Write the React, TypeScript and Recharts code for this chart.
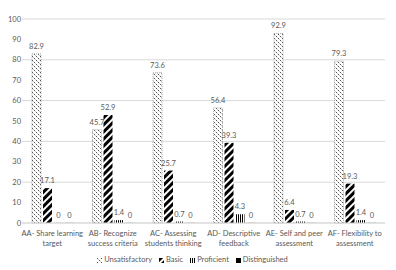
import React from 'react';
import {
  Bar,
  BarChart,
  CartesianGrid,
  LabelList,
  Legend,
  XAxis,
  YAxis,
} from 'recharts';

// each category label is drawn on two lines
const tickLines = [
  ['AA- Share learning', 'target'],
  ['AB- Recognize', 'success criteria'],
  ['AC- Assessing', 'students thinking'],
  ['AD- Descriptive', 'feedback'],
  ['AE- Self and peer', 'assessment'],
  ['AF- Flexibility to', 'assessment'],
];
const categories = tickLines.map((l) => l.join(' '));
const unsatisfactory = [82.9, 45.7, 73.6, 56.4, 92.9, 79.3];
const basic = [17.1, 52.9, 25.7, 39.3, 6.4, 19.3];
const proficient = [0, 1.4, 0.7, 4.3, 0.7, 1.4];
const distinguished = [0, 0, 0, 0, 0, 0];
const yTicks = [0, 10, 20, 30, 40, 50, 60, 70, 80, 90, 100];

const data = categories.map((name, i) => ({
  name,
  unsatisfactory: unsatisfactory[i],
  basic: basic[i],
  proficient: proficient[i],
  distinguished: distinguished[i],
}));

const FONT = 'Lato, "Liberation Sans", sans-serif';
const TEXT = '#595959';
const FS = 7.5;

const series = [
  { key: 'unsatisfactory', name: 'Unsatisfactory', fill: 'url(#dots)', stroke: '#8c8c8c', dash: '1 1' },
  { key: 'basic', name: 'Basic', fill: 'url(#hatch)', stroke: 'none', dash: undefined },
  { key: 'proficient', name: 'Proficient', fill: 'url(#vlines)', stroke: 'none', dash: undefined },
  { key: 'distinguished', name: 'Distinguished', fill: '#000', stroke: 'none', dash: undefined },
];

const CategoryTick = (props: any) => {
  const { x, y, index } = props;
  const lines = tickLines[index] || [];
  return (
    <text x={x} y={y + 11} textAnchor='middle' fontSize={FS} fontFamily={FONT} fill={TEXT}>
      {lines.map((line, i) => (
        <tspan key={i} x={x} dy={i === 0 ? 0 : 9.5}>
          {line}
        </tspan>
      ))}
    </text>
  );
};

const LegendContent = () => (
  <div
    style={{
      display: 'flex',
      justifyContent: 'center',
      gap: 7,
      fontSize: FS,
      fontFamily: FONT,
      color: TEXT,
      lineHeight: '10px',
    }}
  >
    {series.map((s) => (
      <span key={s.key} style={{ display: 'flex', alignItems: 'center' }}>
        <svg width={5} height={5} style={{ marginRight: 2 }}>
          <rect width={5} height={5} fill={s.fill} />
        </svg>
        {s.name}
      </span>
    ))}
  </div>
);

const App = () => {
  return (
    <div
      style={{
        position: 'relative',
        width: 396,
        height: 270,
        margin: '-8px 0 0 -8px',
        overflow: 'hidden',
        background: '#fff',
      }}
    >
      <div
        style={{
          position: 'absolute',
          left: -1,
          top: 6,
          width: 392,
          height: 300,
          border: '1px solid #d9d9d9',
        }}
      />
      <BarChart
        width={396}
        height={270}
        data={data}
        margin={{ top: 19, right: 11, left: 0, bottom: 0 }}
        barCategoryGap={10}
        barGap={2}
        style={{ position: 'absolute', left: 0, top: 0 }}
      >
        <defs>
          <pattern id='dots' width={4} height={4} patternUnits='userSpaceOnUse'>
            <rect width={4} height={4} fill='#fff' />
            <rect x={0} y={0} width={1} height={1} fill='#555' />
            <rect x={2} y={2} width={1} height={1} fill='#555' />
            <rect x={1} y={1} width={1} height={1} fill='#ccc' />
            <rect x={3} y={3} width={1} height={1} fill='#ccc' />
          </pattern>
          <pattern
            id='hatch'
            width={5}
            height={5}
            patternUnits='userSpaceOnUse'
            patternTransform='rotate(45)'
          >
            <rect width={5} height={5} fill='#fff' />
            <rect width={3} height={5} fill='#000' />
          </pattern>
          <pattern id='vlines' width={2} height={2} patternUnits='userSpaceOnUse'>
            <rect width={2} height={2} fill='#fff' />
            <rect width={1} height={2} fill='#000' />
          </pattern>
        </defs>
        <CartesianGrid vertical={false} stroke='#d9d9d9' />
        <XAxis
          dataKey='name'
          axisLine={{ stroke: '#d9d9d9' }}
          tickLine={false}
          tickSize={0}
          interval={0}
          height={32}
          tick={<CategoryTick />}
        />
        <YAxis
          domain={[0, 100]}
          ticks={yTicks}
          width={22}
          axisLine={false}
          tickLine={false}
          tickSize={0}
          tickMargin={1}
          tick={{ fontSize: FS, fontFamily: FONT, fill: TEXT }}
        />
        <Legend verticalAlign='bottom' height={15} content={<LegendContent />} />
        {series.map((s) => (
          <Bar
            key={s.key}
            dataKey={s.key}
            name={s.name}
            fill={s.fill}
            stroke={s.stroke}
            strokeDasharray={s.dash}
            strokeWidth={0.75}
            minPointSize={0.1}
            isAnimationActive={false}
          >
            <LabelList
              dataKey={s.key}
              position='top'
              offset={5}
              fontSize={FS}
              fontFamily={FONT}
              fill={TEXT}
            />
          </Bar>
        ))}
      </BarChart>
    </div>
  );
};

export default App;
